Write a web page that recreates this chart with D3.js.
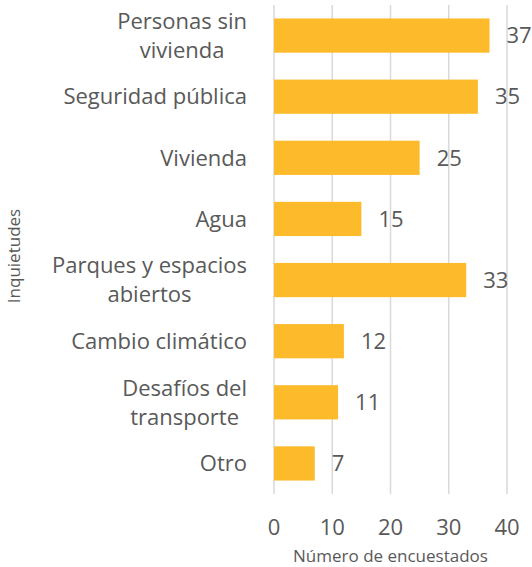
<!DOCTYPE html>
<html>
<head>
<meta charset="utf-8">
<script src="https://cdn.jsdelivr.net/npm/d3@7"></script>
<style>
  body { margin: 0; background: #fff; }
  svg text { font-family: "Open Sans", "Lato", sans-serif; fill: #595959; }
</style>
</head>
<body>
<div id="chart"></div>
<script>
// data
const categories = [
    ["Personas sin", "vivienda"],
    ["Seguridad pública"],
    ["Vivienda"],
    ["Agua"],
    ["Parques y espacios", "abiertos"],
    ["Cambio climático"],
    ["Desafíos del", "transporte"],
    ["Otro"]
];
const values = [37, 35, 25, 15, 33, 12, 11, 7];
const xTicks = [0, 10, 20, 30, 40];

const width = 532, height = 567;
const plotLeft = 274, plotRight = 507, plotTop = 5, plotBottom = 494;

const svg = d3.select("#chart").append("svg")
    .attr("width", width)
    .attr("height", height);

const x = d3.scaleLinear().domain([0, 40]).range([plotLeft, plotRight]);
const y = d3.scaleBand()
    .domain(d3.range(categories.length))
    .range([plotTop, plotBottom])
    .paddingInner(0.44)
    .paddingOuter(0.22);

// gridlines
svg.append("g")
    .selectAll("line")
    .data(xTicks)
    .join("line")
    .attr("x1", d => x(d)).attr("x2", d => x(d))
    .attr("y1", plotTop).attr("y2", plotBottom)
    .attr("stroke", "#d9d9d9")
    .attr("stroke-width", 1.5);

// bars
svg.append("g")
    .selectAll("rect")
    .data(values)
    .join("rect")
    .attr("x", x(0))
    .attr("y", (d, i) => y(i))
    .attr("width", d => x(d) - x(0))
    .attr("height", y.bandwidth())
    .attr("fill", "#FDBA2B");

// value labels
svg.append("g")
    .selectAll("text")
    .data(values)
    .join("text")
    .attr("x", d => x(d) + 17)
    .attr("y", (d, i) => y(i) + y.bandwidth() / 2)
    .attr("dy", "0.35em")
    .attr("font-size", 22)
    .text(d => d);

// category labels (wrapped lines centred inside a right-aligned block)
const labelRight = 247, lineH = 29;
categories.forEach((lines, i) => {
    const cy = y(i) + y.bandwidth() / 2;
    const g = svg.append("g");
    const texts = lines.map((t, k) => g.append("text")
        .attr("font-size", 22)
        .attr("y", cy + (k - (lines.length - 1) / 2) * lineH)
        .attr("dy", "0.35em")
        .attr("text-anchor", "middle")
        .text(t));
    const w = d3.max(texts, t => t.node().getComputedTextLength());
    texts.forEach(t => t.attr("x", labelRight - w / 2));
});

// x tick labels
svg.append("g")
    .selectAll("text")
    .data(xTicks)
    .join("text")
    .attr("x", d => x(d))
    .attr("y", 527)
    .attr("dy", "0.35em")
    .attr("text-anchor", "middle")
    .attr("font-size", 22)
    .text(d => d);

// axis titles
svg.append("text")
    .attr("x", x(20))
    .attr("y", 556)
    .attr("dy", "0.35em")
    .attr("text-anchor", "middle")
    .attr("font-size", 17)
    .text("Número de encuestados");

svg.append("text")
    .attr("transform", "translate(14, 256) rotate(-90)")
    .attr("dy", "0.35em")
    .attr("text-anchor", "middle")
    .attr("font-size", 17)
    .text("Inquietudes");
</script>
</body>
</html>
